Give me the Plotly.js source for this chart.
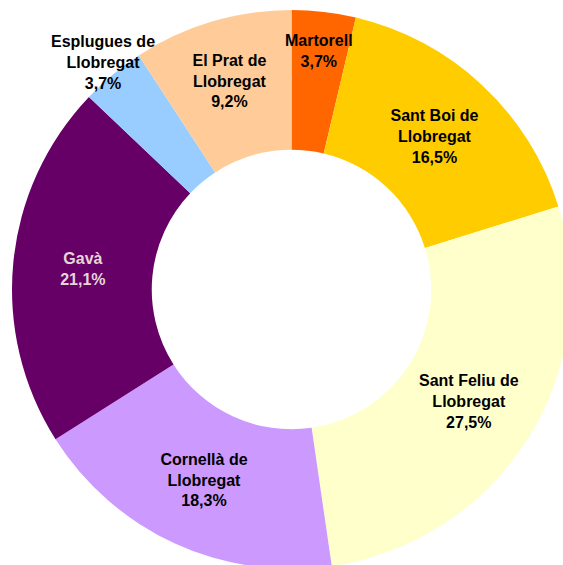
<!DOCTYPE html>
<html>
<head>
<meta charset="utf-8">
<script src="https://cdn.plot.ly/plotly-3.0.1.min.js"></script>
<style>
  html, body { margin: 0; padding: 0; background: #ffffff; overflow: hidden; }
  #chart { width: 571px; height: 569px; }
</style>
</head>
<body>
<div id="chart"></div>
<script>
// ---- data (percent shares) ----
const categories = [
  'Martorell',
  'Sant Boi de Llobregat',
  'Sant Feliu de Llobregat',
  'Cornellà de Llobregat',
  'Gavà',
  'Esplugues de Llobregat',
  'El Prat de Llobregat'
];
const shares = [3.7, 16.5, 27.5, 18.3, 21.1, 3.7, 9.2];

// ---- styles ----
const sliceColors = ['#FF6600', '#FFCC00', '#FFFFCC', '#CC99FF', '#660066', '#99CCFF', '#FFCC99'];
const labelColors = ['#000000', '#000000', '#000000', '#000000', '#E6D6D6', '#000000', '#000000'];
// labels of the thin slices are placed along the slice's mid-angle at these radii (x outer radius)
const freeLabelRadius = { 'Martorell': 0.86, 'Esplugues de Llobregat': 1.055 };

const FONT = "'Liberation Sans', Arial, sans-serif";
const FSIZE = 16;

const displayNames = categories.map(c => c.replace(' Llobregat', '<br>Llobregat'));
const pctText = shares.map(v => v.toFixed(1).replace('.', ',') + '%');
const texts = displayNames.map((n, i) => n + '<br>' + pctText[i]);
const templates = categories.map(c => (c in freeLabelRadius) ? '' : '%{text}');

// annotation positions derived from the cumulative shares
const total = shares.reduce((a, b) => a + b, 0);
const annotations = [];
let cum = 0;
shares.forEach((v, i) => {
  const mid = 2 * Math.PI * (cum + v / 2) / total;
  cum += v;
  const k = freeLabelRadius[categories[i]];
  if (k === undefined) return;
  annotations.push({
    xref: 'paper', yref: 'paper',
    x: 0.5 + 0.5 * k * Math.sin(mid),
    y: 0.5 + 0.5 * k * Math.cos(mid),
    text: texts[i],
    showarrow: false,
    xanchor: 'center', yanchor: 'middle',
    font: { family: FONT, size: FSIZE, color: labelColors[i], weight: 'bold' }
  });
});

const trace = {
  type: 'pie',
  labels: categories,
  values: shares,
  text: texts,
  texttemplate: templates,
  textinfo: 'text',
  hole: 0.5,
  sort: false,
  direction: 'clockwise',
  rotation: 0,
  marker: { colors: sliceColors, line: { width: 0 } },
  textposition: 'inside',
  insidetextorientation: 'horizontal',
  textfont: { family: FONT, size: FSIZE, color: labelColors, weight: 'bold' },
  hoverinfo: 'none',
  showlegend: false,
  domain: { x: [0, 1], y: [0, 1] }
};

const layout = {
  width: 571,
  height: 569,
  margin: { l: 12, r: 0, t: 10, b: 0, pad: 0 },
  paper_bgcolor: '#ffffff',
  showlegend: false,
  uniformtext: { mode: 'show', minsize: FSIZE },
  annotations: annotations
};

Plotly.newPlot('chart', [trace], layout, { staticPlot: true, displayModeBar: false });
</script>
</body>
</html>
